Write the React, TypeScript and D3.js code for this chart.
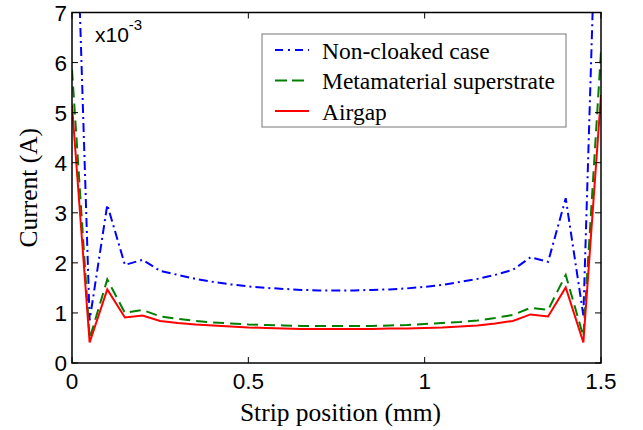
import * as d3 from "d3";

// strip positions (mm), 0.05 step
const positions = [
  0, 0.05, 0.1, 0.15, 0.2, 0.25, 0.3, 0.35, 0.4, 0.45, 0.5, 0.55, 0.6, 0.65, 0.7, 0.75,
  0.8, 0.85, 0.9, 0.95, 1.0, 1.05, 1.1, 1.15, 1.2, 1.25, 1.3, 1.35, 1.4, 1.45, 1.5,
];

// current, x10^-3 A
const nonCloaked = [
  12.0, 0.85, 3.16, 1.96, 2.06, 1.84, 1.76, 1.68, 1.62, 1.57, 1.53, 1.5, 1.48, 1.46, 1.45, 1.45,
  1.45, 1.46, 1.47, 1.49, 1.52, 1.56, 1.62, 1.68, 1.76, 1.86, 2.11, 2.02, 3.29, 0.95, 12.5,
];
const metamaterial = [
  5.86, 0.49, 1.67, 1.0, 1.06, 0.93, 0.88, 0.84, 0.81, 0.79, 0.77, 0.76, 0.75, 0.74, 0.74, 0.74,
  0.74, 0.74, 0.75, 0.76, 0.78, 0.8, 0.82, 0.85, 0.9, 0.96, 1.1, 1.06, 1.76, 0.53, 6.22,
];
const airgap = [
  5.15, 0.41, 1.47, 0.91, 0.95, 0.84, 0.8, 0.77, 0.75, 0.73, 0.71, 0.7, 0.69, 0.68, 0.68, 0.68,
  0.68, 0.68, 0.69, 0.69, 0.7, 0.71, 0.73, 0.75, 0.79, 0.84, 0.97, 0.93, 1.51, 0.41, 5.35,
];

const seriesNames = ["Non-cloaked case", "Metamaterial superstrate", "Airgap"];
const seriesValues = [nonCloaked, metamaterial, airgap];
const seriesColors = ["#0000ff", "#008000", "#ff0000"];
const seriesDash = ["9,4,2,4", "11,6", null];

const xTicks = [0, 0.5, 1, 1.5];
const yTicks = [0, 1, 2, 3, 4, 5, 6, 7];

const width = 643;
const height = 430;
const left = 72;
const right = 601;
const top = 12.5;
const bottom = 363;

export default function App() {
  const x = d3.scaleLinear().domain([0, 1.5]).range([left, right]);
  const y = d3.scaleLinear().domain([0, 7]).range([bottom, top]);

  const line = d3
    .line<number>()
    .x((_, i) => x(positions[i]))
    .y((d) => y(d));

  const sans = "Liberation Sans, Arial, sans-serif";
  const serif = "Liberation Serif, Times New Roman, serif";
  const tick = 6;

  return (
    <svg
      width={width}
      height={height}
      style={{ position: "absolute", left: 0, top: 0, background: "#fff" }}
    >
      <defs>
        <clipPath id="plot">
          <rect x={left} y={top} width={right - left} height={bottom - top} />
        </clipPath>
      </defs>

      <g clipPath="url(#plot)">
        {seriesValues.map((vals, k) => (
          <path
            key={k}
            d={line(vals) ?? ""}
            fill="none"
            stroke={seriesColors[k]}
            strokeWidth={2}
            strokeDasharray={seriesDash[k] ?? undefined}
          />
        ))}
      </g>

      {/* ticks on all four sides */}
      {xTicks.map((t) => (
        <g key={"x" + t} stroke="#000" strokeWidth={1}>
          <line x1={x(t)} x2={x(t)} y1={bottom} y2={bottom - tick} />
          <line x1={x(t)} x2={x(t)} y1={top} y2={top + tick} />
        </g>
      ))}
      {yTicks.map((t) => (
        <g key={"y" + t} stroke="#000" strokeWidth={1}>
          <line x1={left} x2={left + tick} y1={y(t)} y2={y(t)} />
          <line x1={right} x2={right - tick} y1={y(t)} y2={y(t)} />
        </g>
      ))}

      <rect
        x={left}
        y={top}
        width={right - left}
        height={bottom - top}
        fill="none"
        stroke="#000"
        strokeWidth={1.5}
      />

      {xTicks.map((t) => (
        <text
          key={"xl" + t}
          x={x(t)}
          y={bottom + 26}
          textAnchor="middle"
          fontFamily={sans}
          fontSize={22.5}
        >
          {t}
        </text>
      ))}
      {yTicks.map((t) => (
        <text
          key={"yl" + t}
          x={left - 5}
          y={y(t) + 8}
          textAnchor="end"
          fontFamily={sans}
          fontSize={22.5}
        >
          {t}
        </text>
      ))}

      <text x={95} y={42} fontFamily={sans} fontSize={21}>
        x10
        <tspan dy={-12} fontSize={15}>
          -3
        </tspan>
      </text>

      <text
        x={(left + right) / 2 + 4}
        y={421}
        textAnchor="middle"
        fontFamily={serif}
        fontSize={25.5}
      >
        Strip position (mm)
      </text>
      <text
        transform={`translate(37,${(top + bottom) / 2}) rotate(-90)`}
        textAnchor="middle"
        fontFamily={serif}
        fontSize={25.5}
      >
        Current (A)
      </text>

      {/* legend */}
      <rect x={262} y={34} width={304} height={93} fill="#fff" stroke="#777" strokeWidth={1} />
      {seriesNames.map((name, k) => {
        const ly = 50 + k * 30.5;
        return (
          <g key={name}>
            <line
              x1={275}
              x2={309}
              y1={ly}
              y2={ly}
              stroke={seriesColors[k]}
              strokeWidth={2}
              strokeDasharray={k === 0 ? "8,5,2,5" : k === 1 ? "12,5" : undefined}
            />
            <text x={322} y={ly + 8.5} fontFamily={serif} fontSize={23.5}>
              {name}
            </text>
          </g>
        );
      })}
    </svg>
  );
}
